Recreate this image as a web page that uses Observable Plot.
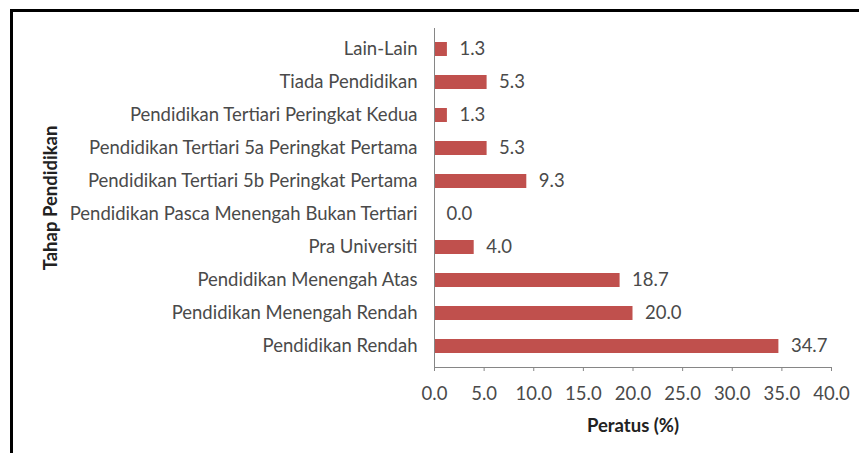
<!DOCTYPE html>
<html>
<head>
<meta charset="utf-8">
<script src="https://cdn.jsdelivr.net/npm/d3@7"></script>
<script src="https://cdn.jsdelivr.net/npm/@observablehq/plot@0.6"></script>
<style>
  html, body { margin: 0; padding: 0; background: #fff; }
  #wrap { position: relative; width: 859px; height: 453px; overflow: hidden; }
  #border { position: absolute; left: 10px; top: 9px; width: 900px; height: 500px;
            border-top: 3px solid #000; border-left: 3px solid #000; box-sizing: border-box; pointer-events: none; }
  svg { display: block; }
</style>
</head>
<body>
<div id="wrap"><div id="border"></div></div>
<script>
const categories = [
  "Lain-Lain",
  "Tiada Pendidikan",
  "Pendidikan Tertiari Peringkat Kedua",
  "Pendidikan Tertiari 5a Peringkat Pertama",
  "Pendidikan Tertiari 5b Peringkat Pertama",
  "Pendidikan Pasca Menengah Bukan Tertiari",
  "Pra Universiti",
  "Pendidikan Menengah Atas",
  "Pendidikan Menengah Rendah",
  "Pendidikan Rendah"
];
const values = [1.3, 5.3, 1.3, 5.3, 9.3, 0.0, 4.0, 18.7, 20.0, 34.7];
const xTicks = [0, 5, 10, 15, 20, 25, 30, 35, 40];
const xTitle = "Peratus (%)";
const yTitle = "Tahap Pendidikan";

const data = categories.map((c, i) => ({category: c, value: values[i]}));
const font = "Lato, 'Open Sans', sans-serif";
const textColor = "#4a4a4a";

const chart = Plot.plot({
  width: 859,
  height: 453,
  marginLeft: 434,
  marginRight: 28,
  marginTop: 28,
  marginBottom: 86,
  style: {fontFamily: font, fontSize: "18px", background: "transparent", color: textColor},
  x: {domain: [0, 40]},
  y: {domain: categories, paddingInner: 0.58, paddingOuter: 0.29},
  marks: [
    Plot.barX(data, {x: "value", y: "category", fill: "#C0504D"}),
    Plot.text(data, {x: "value", y: "category", text: d => d.value.toFixed(1), textAnchor: "start", dx: 12, fill: textColor, fontSize: 18.5}),
    Plot.frame({anchor: "left", stroke: "#868686"}),
    Plot.frame({anchor: "bottom", stroke: "#868686"}),
    Plot.axisY({tickSize: 0, tickPadding: 17, label: null, fill: textColor, fontSize: 18.5}),
    Plot.axisX({ticks: xTicks, tickFormat: d => d.toFixed(1), tickSize: 4, tickPadding: 15, label: null, stroke: "#868686", fill: textColor, fontSize: 18.5}),
    Plot.text([xTitle], {frameAnchor: "bottom", dy: 59, lineAnchor: "middle", fontWeight: "bold", fill: "#222", fontSize: 18.5}),
    Plot.text([yTitle], {frameAnchor: "left", dx: -383, rotate: -90, textAnchor: "middle", lineAnchor: "middle", fontWeight: "bold", fill: "#222", fontSize: 18.5})
  ]
});
document.getElementById("wrap").prepend(chart);
</script>
</body>
</html>
